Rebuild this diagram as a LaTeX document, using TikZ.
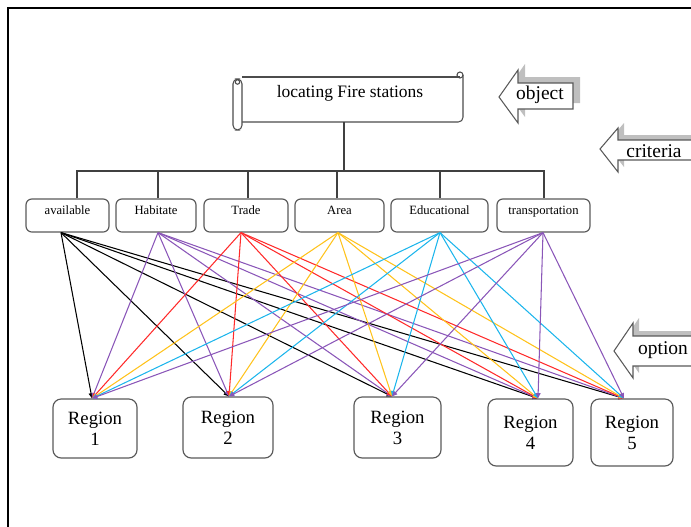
\documentclass[tikz,border=0pt]{standalone}
\usepackage{fontspec}
\setmainfont{Liberation Serif}
\usetikzlibrary{arrows.meta}

\definecolor{boxgrey}{HTML}{595959}
\definecolor{linkpurple}{HTML}{8A56B8}
\definecolor{linkred}{HTML}{FF2A2A}
\definecolor{linkgold}{HTML}{FFC21A}
\definecolor{linkcyan}{HTML}{1CB5EC}

\tikzset{
  critbox/.style={draw=boxgrey, line width=1pt, rounded corners=5pt,
    inner xsep=0pt, inner ysep=0pt, text height=13.5pt, text depth=14.7pt,
    font=\fontsize{10.8}{12}\selectfont},
  regionbox/.style={draw=boxgrey, line width=1pt, rounded corners=7pt,
    align=center, inner sep=0pt, font=\fontsize{16}{18}\selectfont},
  link/.style={line width=0.9pt, -{Triangle[length=4.5pt,width=4pt]}},
  tree/.style={line width=1pt, draw=black!75},
  scroll/.style={line width=0.9pt, draw=black!70},
  blockarrow/.style={draw=black!65, fill=white, line width=0.9pt},
  blockshadow/.style={fill=black!25},
  tag/.style={font=\fontsize{16.6}{18}\selectfont, inner sep=0pt},
}

\begin{document}
\begin{tikzpicture}[x=0.03cm, y=-0.03cm]
    \useasboundingbox (0,0) rectangle (691,527);

    % Frame
    \draw[line width=1.7pt] (8,527) -- (8,8) -- (691,8);

    % Goal scroll
    \draw[scroll] (242,77) -- (460,77);
    \draw[scroll, rounded corners=4] (240,122) -- (463,122) -- (463,75);
    \draw[scroll] (460,75) circle (3);
    \draw[scroll, fill=white, rounded corners=4] (233,79) rectangle (242,130);
    \draw[scroll] (237.5,82) circle (2.2);
    \node[font=\fontsize{14.9}{16}\selectfont, inner sep=0pt] (goal) at (350,93) {locating Fire stations};

    % Side arrows
    \fill[blockshadow, shift={(7,-6)}] (499,97) -- (518,70) -- (518,83) -- (573,83) -- (573,109) -- (518,109) -- (518,123) -- cycle;
    \draw[blockarrow] (499,97) -- (518,70) -- (518,83) -- (573,83) -- (573,109) -- (518,109) -- (518,123) -- cycle;
    \node[tag] (object) at (540,95) {object};

    \fill[blockshadow, shift={(6,-5)}] (600,149) -- (618,128) -- (618,140) -- (695,140) -- (695,160) -- (618,160) -- (618,172) -- cycle;
    \draw[blockarrow] (600,149) -- (618,128) -- (618,140) -- (695,140) -- (695,160) -- (618,160) -- (618,172) -- cycle;
    \node[tag] (criteria) at (654,151) {criteria};

    \fill[blockshadow, shift={(6,-5)}] (614,351) -- (633,323) -- (633,336) -- (695,336) -- (695,366) -- (633,366) -- (633,378) -- cycle;
    \draw[blockarrow] (614,351) -- (633,323) -- (633,336) -- (695,336) -- (695,366) -- (633,366) -- (633,378) -- cycle;
    \node[tag] (option) at (663,350) {option};

    % Criteria
    \foreach \n/\x/\w/\t in {avail/67.5/83/available, habit/156/80/Habitate,
        trade/246/84/Trade, area/339.5/89/Area, edu/439.5/97/Educational,
        trans/543.5/93/transportation} {
        \node[critbox, minimum width=\w*0.03cm] (\n) at (\x,215.5) {\t};
    }

    % Regions
    \foreach \n/\x/\y/\w/\h/\k in {r1/95/428.5/84/59/1, r2/228/427.5/90/61/2,
        r3/397.5/427.5/87/61/3, r4/530.5/432.5/85/67/4, r5/632/432.5/82/67/5} {
        \node[regionbox, minimum width=\w*0.03cm, minimum height=\h*0.03cm] (\n) at (\x,\y) {Region\\\k};
    }

    % Tree from goal to criteria
    \coordinate (goalfoot) at (344,122);
    \coordinate (hub) at (344,171);
    \draw[tree] (goalfoot) -- (hub);
    \foreach \n/\x in {avail/77, habit/158, trade/248, area/337, edu/440, trans/544} {
        \draw[tree] (\x,0 |- \n.north) -- (\x,0 |- hub) -- (hub);
    }

    % Links from criteria to regions
    \foreach \n/\sx/\col in {avail/61/black, habit/158/linkpurple, trade/241/linkred,
        area/338/linkgold, edu/440/linkcyan, trans/543/linkpurple} {
        \foreach \r/\tx in {r1/92, r2/229, r3/392, r4/538, r5/624} {
            \draw[link, draw=\col] (\sx,0 |- \n.south) -- (\tx,0 |- \r.north);
        }
    }

\end{tikzpicture}
\end{document}
